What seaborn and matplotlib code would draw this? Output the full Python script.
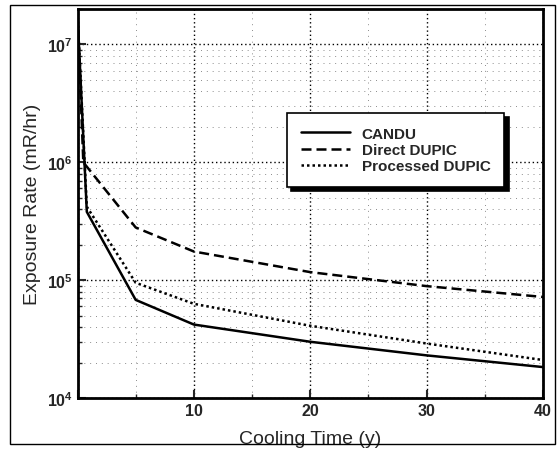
import matplotlib
matplotlib.use('Agg')
import pandas as pd
import matplotlib.pyplot as plt
import seaborn as sns
from matplotlib.patches import Rectangle
from matplotlib.ticker import LogLocator, NullFormatter, FixedLocator

# values
series_names = ['CANDU', 'Direct DUPIC', 'Processed DUPIC']

candu_time = [0, 0.8, 5, 10, 20, 30, 40]
candu_rate = [1.8e7, 3.8e5, 6.8e4, 4.2e4, 3.0e4, 2.3e4, 1.83e4]

direct_time = [0, 0.5, 5, 10, 20, 30, 40]
direct_rate = [1.8e7, 1.0e6, 2.8e5, 1.75e5, 1.17e5, 8.9e4, 7.2e4]

processed_time = [0, 0.8, 5, 10, 20, 30, 40]
processed_rate = [1.8e7, 4.2e5, 9.5e4, 6.3e4, 4.1e4, 2.9e4, 2.1e4]

x_ticks = [0, 10, 20, 30, 40]
x_tick_labels = ['', '10', '20', '30', '40']
y_ticks = [1e4, 1e5, 1e6, 1e7]

df = pd.concat([
    pd.DataFrame({'time': candu_time, 'rate': candu_rate, 'fuel': series_names[0]}),
    pd.DataFrame({'time': direct_time, 'rate': direct_rate, 'fuel': series_names[1]}),
    pd.DataFrame({'time': processed_time, 'rate': processed_rate, 'fuel': series_names[2]}),
], ignore_index=True)

sns.set_style('ticks')
plt.rcParams['font.family'] = ['Liberation Sans', 'DejaVu Sans']

fig = plt.figure(figsize=(5.57, 4.56), dpi=100)
ax = fig.add_axes([77.5 / 557, 1 - 399 / 456, (543 - 77.5) / 557, (399 - 10) / 456])

dash_map = {'CANDU': '', 'Direct DUPIC': (4, 2), 'Processed DUPIC': (1, 1.2)}
sns.lineplot(data=df, x='time', y='rate', hue='fuel', style='fuel',
             hue_order=series_names, style_order=series_names,
             palette=['black'] * 3, dashes=dash_map, linewidth=1.8,
             estimator=None, sort=False, legend=False, ax=ax)

ax.set_yscale('log')
ax.set_xlim(0, 40)
ax.set_ylim(1e4, 2e7)

ax.xaxis.set_major_locator(FixedLocator(x_ticks))
ax.set_xticklabels(x_tick_labels)
ax.xaxis.set_minor_locator(FixedLocator([5, 15, 25, 35]))
ax.yaxis.set_major_locator(FixedLocator(y_ticks))
ax.yaxis.set_minor_locator(LogLocator(base=10, subs=range(2, 10)))
ax.yaxis.set_minor_formatter(NullFormatter())

ax.tick_params(which='major', direction='in', length=6, width=1.5, labelsize=11.5)
ax.tick_params(which='minor', direction='in', length=3, width=1)
for lab in ax.get_xticklabels() + ax.get_yticklabels():
    lab.set_fontweight('bold')

# major grid dense dotted, minor grid sparse and faint like the scan
ax.grid(which='major', linestyle=(0, (1, 2)), color='black', linewidth=1.0)
ax.grid(which='minor', linestyle=(0, (1, 5)), color='0.55', linewidth=0.7)
for s in ax.spines.values():
    s.set_linewidth(2)
    s.set_color('black')

ax.set_xlabel('Cooling Time (y)', fontsize=14, labelpad=9)
ax.set_ylabel('Exposure Rate (mR/hr)', fontsize=14, labelpad=4)

leg = ax.legend(ax.lines[:3], series_names, loc='upper left',
                bbox_to_anchor=(0.45, 0.733), borderaxespad=0,
                fancybox=False, frameon=True, handlelength=3.2,
                prop={'weight': 'bold', 'size': 11},
                shadow={'color': 'black', 'alpha': 1, 'ox': 3, 'oy': -3},
                framealpha=1, borderpad=0.9, labelspacing=0.15)
leg.get_frame().set_edgecolor('black')
leg.get_frame().set_linewidth(1.2)

# thin frame around the whole scanned figure
fig.patches.append(Rectangle((10 / 557, 1 - 445 / 456), 545 / 557, 439 / 456,
                             transform=fig.transFigure, fill=False,
                             edgecolor='black', linewidth=1))

fig.savefig('out.png', dpi=100)
